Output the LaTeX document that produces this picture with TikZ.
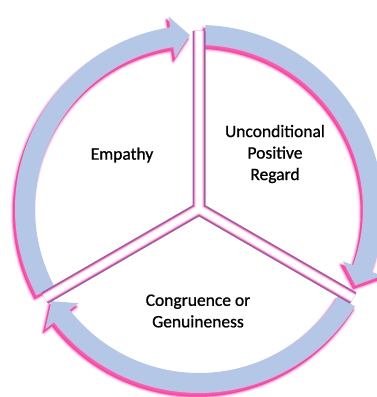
\documentclass[tikz,border=0pt]{standalone}
\usepackage{fontspec}
\setmainfont{Carlito}
\newfontfamily\labelfont[FakeBold=0.9]{Carlito}
\definecolor{bandblue}{RGB}{180,199,231}
\definecolor{edgeblue}{RGB}{79,129,189}
\definecolor{glowpink}{RGB}{255,45,150}
\newcommand{\cyclearrow}[2]{%
  (#1:184pt) arc[start angle=#1, end angle={#2+6}, radius=184pt]
  -- ({#2+6}:195pt) -- (#2:174pt) -- ({#2+6}:153pt) -- ({#2+6}:164pt)
  arc[start angle={#2+6}, end angle=#1, radius=164pt] -- cycle}
\tikzset{
  label text/.style={align=center, font=\labelfont\fontsize{17.5}{21.5}\selectfont, text=black},
  band/.style={fill=bandblue},
}
\begin{document}
\begin{tikzpicture}[x=1pt,y=1pt]
\useasboundingbox (0,0) rectangle (377,397);
\begin{scope}[shift={(199,188)}]
  % glow / shadow
  \foreach \w/\o in {5/0.1,3.5/0.16,2/0.28,0.5/0.6}{
    \foreach \a/\b in {208/93, 88/-26, -32/-148}{
      \filldraw[glowpink, opacity=\o, line width=\w pt, line join=round, shift={(-2,-3.5)}] \cyclearrow{\a}{\b};
    }
  }
  % arrows
  \fill[band] \cyclearrow{208}{93};
  \fill[band] \cyclearrow{88}{-26};
  \fill[band] \cyclearrow{-32}{-148};
  % spokes
  \foreach \c/\w in {edgeblue/13, glowpink/11.4, glowpink!55/9.6, glowpink!20/8, white/6.4}{
    \draw[\c, line width=\w pt, line join=miter] (-30:178pt) -- (0,0) -- (210:178pt) (0,0) -- (90:178pt);
  }
\end{scope}
\node[label text] (emp) at (122,242) {Empathy};
\node[label text] (upr) at (275,243) {Unconditional\\Positive\\Regard};
\node[label text] (cog) at (198,86) {Congruence or\\Genuineness};
\end{tikzpicture}
\end{document}
